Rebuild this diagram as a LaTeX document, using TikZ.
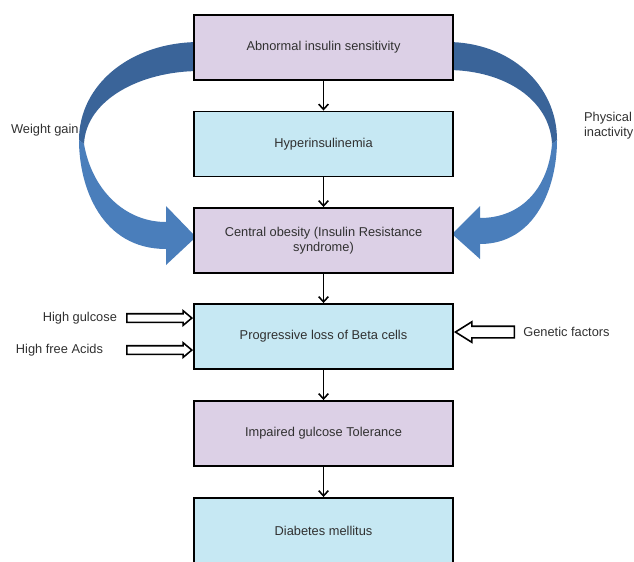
\documentclass[tikz,border=0pt]{standalone}
\usepackage{fontspec}
\setmainfont{Liberation Sans}
\usetikzlibrary{shapes.arrows,positioning,calc,arrows.meta}

\definecolor{boxlilac}{HTML}{DCD0E6}
\definecolor{boxcyan}{HTML}{C6E8F3}
\definecolor{ribbondark}{HTML}{3A6499}
\definecolor{ribbonlight}{HTML}{4A7EBB}
\definecolor{txtgrey}{HTML}{303030}

\begin{document}
\begin{tikzpicture}[x=0.02cm, y=-0.02cm,
    font=\fontsize{7.3}{8.6}\selectfont, text=txtgrey,
    stage/.style={draw=black, line width=1.1pt, minimum width=5.18cm,
      minimum height=1.3cm, align=center, inner sep=2pt},
    lilacbox/.style={stage, fill=boxlilac},
    cyanbox/.style={stage, fill=boxcyan},
    flow/.style={-{Straight Barb[length=3pt,width=5.5pt]}, line width=0.9pt},
    feed/.style={single arrow, draw=black, fill=white, line width=0.9pt,
      inner xsep=0pt, single arrow tip angle=80},
    lbl/.style={inner sep=1pt}]
  \clip (0,0) rectangle (634,561);

  % twisted ribbons
  \fill[ribbondark] (200,42) .. controls (130,42) and (79,85) .. (79,140)
    -- (84,144) .. controls (86,100) and (140,71) .. (200,71) -- cycle;
  \fill[ribbonlight] (79,140) .. controls (79,188) and (102,249) .. (166,249)
    -- (166,265) -- (196,237) -- (166,206) -- (166,222)
    .. controls (125,222) and (92,190) .. (84,144) -- cycle;
  \fill[ribbondark] (447,42) .. controls (510,42) and (557,85) .. (557,140)
    -- (552,144) .. controls (550,100) and (505,70) .. (447,70) -- cycle;
  \fill[ribbonlight] (557,140) .. controls (557,188) and (535,244) .. (480,244)
    -- (480,259) -- (452,234) -- (480,206) -- (480,218)
    .. controls (520,218) and (548,190) .. (552,144) -- cycle;

  \node[lilacbox] (abn) at (323.5,47.5) {Abnormal insulin sensitivity};
  \node[cyanbox] (hyp) at (323.5,144) {Hyperinsulinemia};
  \node[lilacbox] (obes) at (323.5,240.5) {Central obesity (Insulin Resistance\\syndrome)};
  \node[cyanbox] (beta) at (323.5,336.5) {Progressive loss of Beta cells};
  \node[lilacbox] (igt) at (323.5,433.5) {Impaired gulcose Tolerance};
  \node[cyanbox] (dm) at (323.5,530.5) {Diabetes mellitus};

  \draw[flow] (abn) -- (hyp);
  \draw[flow] (hyp) -- (obes);
  \draw[flow] (obes) -- (beta);
  \draw[flow] (beta) -- (igt);
  \draw[flow] (igt) -- (dm);

  \node[lbl, anchor=west] (wg) at (9,130) {Weight gain};
  \node[lbl, anchor=west, align=left] (pi) at (582,126) {Physical\\inactivity};

  \node[feed, minimum height=1.3cm, inner ysep=0.07cm,
    single arrow head extend=0.06cm, anchor=tip] (ga) at ($(beta.north west)+(0,15)$) {};
  \node[feed, minimum height=1.3cm, inner ysep=0.07cm,
    single arrow head extend=0.06cm, anchor=tip] (fa) at ($(beta.north west)+(0,47)$) {};
  \node[feed, minimum height=1.18cm, inner ysep=0.1cm,
    single arrow head extend=0.09cm, single arrow tip angle=64,
    shape border rotate=180, anchor=tip] (ge) at ($(beta.north east)+(0,29)$) {};

  \node[lbl, left=0.14cm of ga.tail] (hg) {High gulcose};
  \node[lbl, left=0.42cm of fa.tail] (hfa) {High free Acids};
  \node[lbl, right=0.12cm of ge.tail] (gf) {Genetic factors};
\end{tikzpicture}
\end{document}
